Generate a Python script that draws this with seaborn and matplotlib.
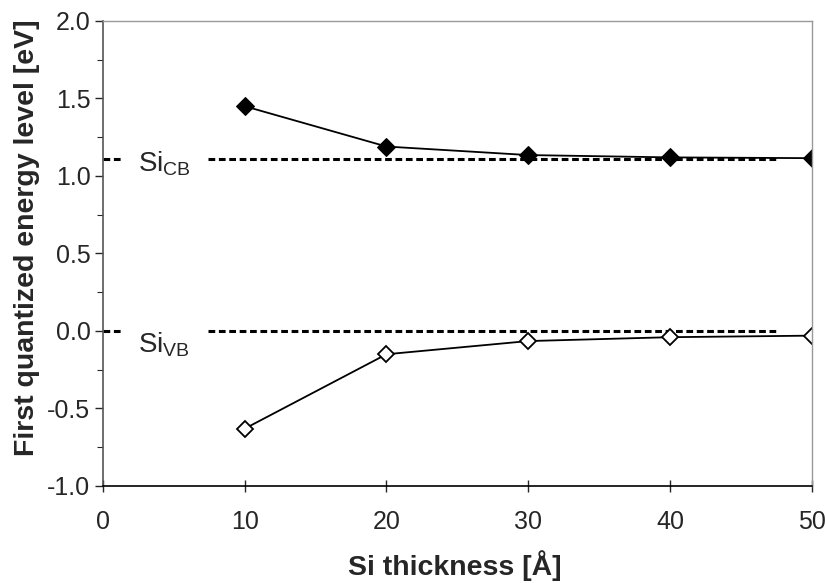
import matplotlib
matplotlib.use("Agg")
import matplotlib.pyplot as plt
import seaborn as sns
import pandas as pd
from matplotlib.ticker import MultipleLocator, FormatStrFormatter

thickness = [10, 20, 30, 40, 50]
cb_level = [1.45, 1.19, 1.135, 1.12, 1.115]
vb_level = [-0.63, -0.15, -0.065, -0.04, -0.03]
si_cb = 1.11
si_vb = 0.0
x_ticks = [0, 10, 20, 30, 40, 50]

sns.set_style("ticks")
plt.rcParams['font.family'] = ['Liberation Sans', 'DejaVu Sans']

fig = plt.figure(figsize=(8.25, 5.83), dpi=100)
ax = fig.add_axes([0.1248, 0.1664, 0.8592, 0.7976])

df_cb = pd.DataFrame({"x": thickness, "y": cb_level})
df_vb = pd.DataFrame({"x": thickness, "y": vb_level})

# reference dashed levels
for lvl in (si_cb, si_vb):
    ax.plot([0, 1.3], [lvl, lvl], ls=(0, (2.2, 1.2)), color="black", lw=2.2)
    ax.plot([7.4, 47.6], [lvl, lvl], ls=(0, (2.2, 1.2)), color="black", lw=2.2)

sns.lineplot(data=df_cb, x="x", y="y", ax=ax, color="black", lw=1.3,
             marker="D", markersize=9, markerfacecolor="black",
             markeredgecolor="black")
sns.lineplot(data=df_vb, x="x", y="y", ax=ax, color="black", lw=1.3,
             marker="D", markersize=8, markerfacecolor="white",
             markeredgecolor="black", markeredgewidth=1.3)

ax.text(2.5, 1.08, r"Si$_{\mathregular{CB}}$", fontsize=20, va="center", ha="left")
ax.text(2.5, -0.09, r"Si$_{\mathregular{VB}}$", fontsize=20, va="center", ha="left")

ax.set_xlim(0, 50)
ax.set_ylim(-1.0, 2.0)
ax.set_xticks(x_ticks)
ax.yaxis.set_major_locator(MultipleLocator(0.5))
ax.yaxis.set_minor_locator(MultipleLocator(0.25))
ax.yaxis.set_major_formatter(FormatStrFormatter("%.1f"))
ax.tick_params(axis="y", which="major", direction="out", length=6, width=1, labelsize=18, pad=3)
ax.tick_params(axis="y", which="minor", direction="out", length=4, width=0.8)
ax.tick_params(axis="x", which="major", direction="inout", length=8, width=1, labelsize=18, pad=13)

for s in ("top", "right"):
    ax.spines[s].set_visible(True)
    ax.spines[s].set_color("#999999")
    ax.spines[s].set_linewidth(1)
for s in ("left", "bottom"):
    ax.spines[s].set_linewidth(1.2)
ax.spines["left"].set_color("#555555")
ax.spines["bottom"].set_color("black")

ax.set_xlabel("Si thickness [Å]", fontsize=20.5, fontweight="bold")
ax.set_ylabel("First quantized energy level [eV]", fontsize=20.5, fontweight="bold")
ax.xaxis.set_label_coords(0.497, -0.138)
ax.yaxis.set_label_coords(-0.089, 0.535)

fig.savefig("out.png", dpi=100)
